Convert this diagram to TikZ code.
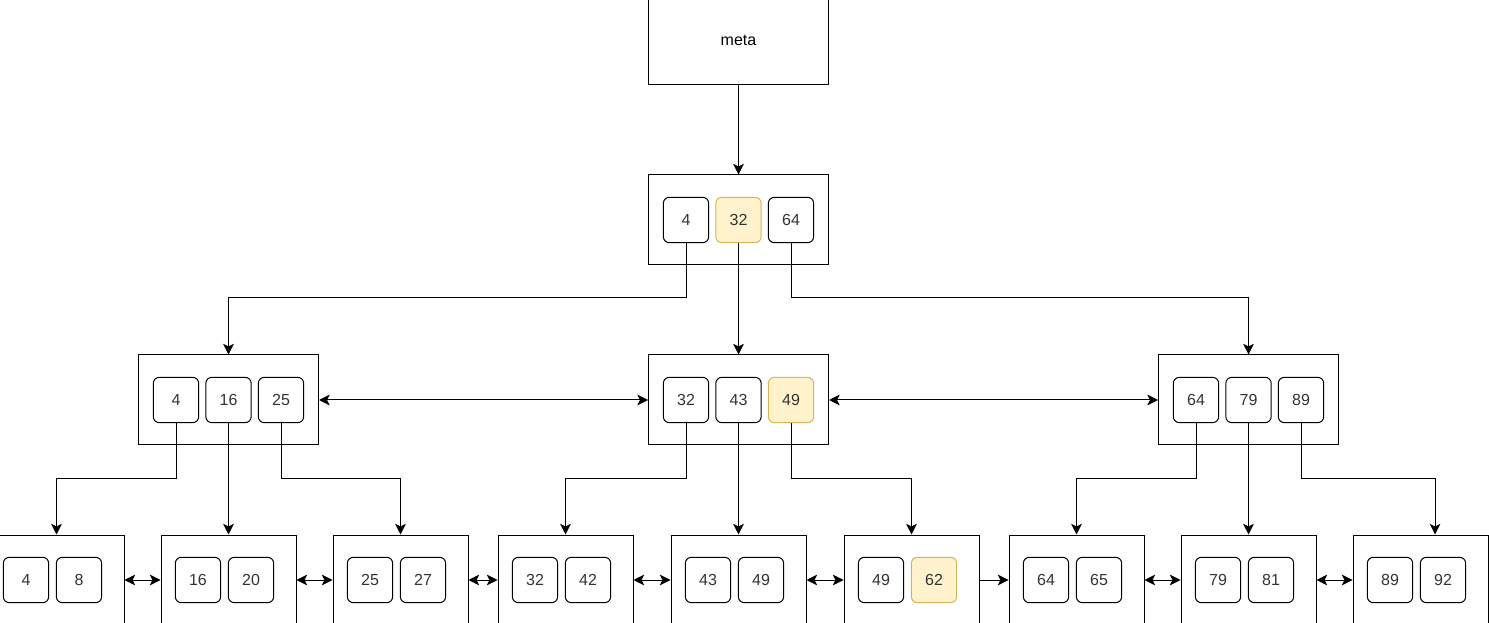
\documentclass[tikz,border=0pt]{standalone}
\usepackage{fontspec}
\setmainfont{Liberation Sans}
\usetikzlibrary{arrows.meta,positioning}
\definecolor{hlfill}{HTML}{FFF2CC}
\definecolor{hldraw}{HTML}{D6B656}
\tikzset{
    %Define standard arrow tip
    >={Stealth[length=8pt,width=8pt,inset=2pt]},
    %Define style for pages
    pagebox/.style={
           rectangle,
           draw=black, line width=0.75pt,
           minimum width=135pt,
           minimum height=67.5pt,
           inner sep=0pt},
    leafbox/.style={
           pagebox,
           minimum width=101.25pt},
    %Define style for keys
    keybox/.style={
           rectangle,
           rounded corners=4.5pt,
           draw=black, line width=0.75pt,
           minimum width=34pt,
           minimum height=34pt,
           text=black!80},
    keyhl/.style={
           keybox,
           fill=hlfill, draw=hldraw},
    % Define arrow style
    pil/.style={
           ->,
           line width=0.75pt}
}
\begin{document}
\begin{tikzpicture}[x=0.75pt,y=-0.75pt,font=\fontsize{12}{14}\selectfont]
\useasboundingbox (0,0) rectangle (1489,623);
\clip (0,0) rectangle (1489,623);

 %levels for the bends
\coordinate (bend1) at (0,298);
\coordinate (bend2) at (0,479);

 %meta and root
\node[pagebox](meta) at (738.5,40){meta};
\node[pagebox](root) at (738.5,220){};
\node[keybox](k4) at (686,220){4};
\node[keyhl](k32) at (738.5,220){32};
\node[keybox](k64) at (791,220){64};

 %inner pages
\node[pagebox](L) at (228.5,400){};
\node[keybox](a4) at (176,400){4};
\node[keybox](a16) at (228.5,400){16};
\node[keybox](a25) at (281,400){25};
\node[pagebox](M) at (738.5,400){};
\node[keybox](b32) at (686,400){32};
\node[keybox](b43) at (738.5,400){43};
\node[keyhl](b49) at (791,400){49};
\node[pagebox](R) at (1248.5,400){};
\node[keybox](c64) at (1196,400){64};
\node[keybox](c79) at (1248.5,400){79};
\node[keybox](c89) at (1301,400){89};

 %leaves
\node[leafbox](leaf1) at (56.5,580){};
\node[keybox](leaf1a) at (26,580){4};
\node[keybox](leaf1b) at (79,580){8};
\node[leafbox](leaf2) at (228.5,580){};
\node[keybox](leaf2a) at (198,580){16};
\node[keybox](leaf2b) at (251,580){20};
\node[leafbox](leaf3) at (400.5,580){};
\node[keybox](leaf3a) at (370,580){25};
\node[keybox](leaf3b) at (423,580){27};
\node[leafbox](leaf4) at (565.5,580){};
\node[keybox](leaf4a) at (535,580){32};
\node[keybox](leaf4b) at (588,580){42};
\node[leafbox](leaf5) at (738.5,580){};
\node[keybox](leaf5a) at (708,580){43};
\node[keybox](leaf5b) at (761,580){49};
\node[leafbox](leaf6) at (911.5,580){};
\node[keybox](leaf6a) at (881,580){49};
\node[keyhl](leaf6b) at (934,580){62};
\node[leafbox](leaf7) at (1076.5,580){};
\node[keybox](leaf7a) at (1046,580){64};
\node[keybox](leaf7b) at (1099,580){65};
\node[leafbox](leaf8) at (1248.5,580){};
\node[keybox](leaf8a) at (1218,580){79};
\node[keybox](leaf8b) at (1271,580){81};
\node[leafbox](leaf9) at (1420.5,580){};
\node[keybox](leaf9a) at (1390,580){89};
\node[keybox](leaf9b) at (1443,580){92};

 %tree edges
\draw[pil] (meta.south) -- (root.north);
\draw[pil] (k4.south) -- (k4.south |- bend1) -| (L.north);
\draw[pil] (k32.south) -- (M.north);
\draw[pil] (k64.south) -- (k64.south |- bend1) -| (R.north);

\draw[pil] (a4.south) -- (a4.south |- bend2) -| (leaf1.north);
\draw[pil] (a16.south) -- (leaf2.north);
\draw[pil] (a25.south) -- (a25.south |- bend2) -| (leaf3.north);
\draw[pil] (b32.south) -- (b32.south |- bend2) -| (leaf4.north);
\draw[pil] (b43.south) -- (leaf5.north);
\draw[pil] (b49.south) -- (b49.south |- bend2) -| (leaf6.north);
\draw[pil] (c64.south) -- (c64.south |- bend2) -| (leaf7.north);
\draw[pil] (c79.south) -- (leaf8.north);
\draw[pil] (c89.south) -- (c89.south |- bend2) -| ([xshift=10.9pt]leaf9.north);

 %sibling links
\draw[pil,<->] (L.east) -- (M.west);
\draw[pil,<->] (M.east) -- (R.west);
\draw[pil,<->] (leaf1.east) -- (leaf2.west);
\draw[pil,<->] (leaf2.east) -- (leaf3.west);
\draw[pil,<->] (leaf3.east) -- (leaf4.west);
\draw[pil,<->] (leaf4.east) -- (leaf5.west);
\draw[pil,<->] (leaf5.east) -- (leaf6.west);
\draw[pil] (leaf6.east) -- (leaf7.west);
\draw[pil,<->] (leaf7.east) -- (leaf8.west);
\draw[pil,<->] (leaf8.east) -- (leaf9.west);

\end{tikzpicture}
\end{document}
